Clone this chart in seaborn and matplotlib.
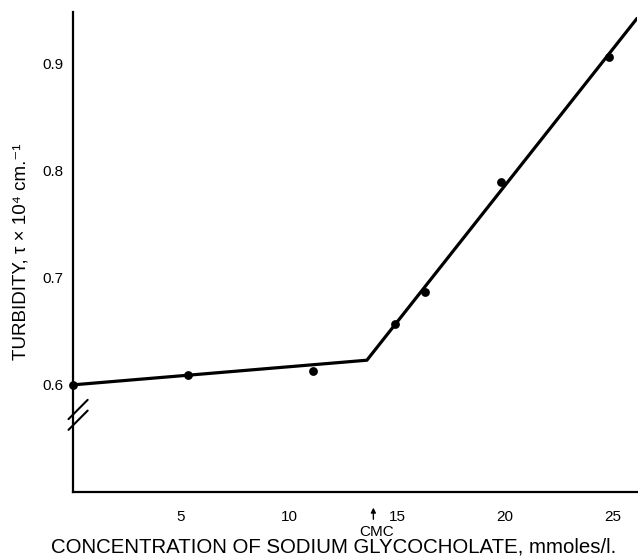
import matplotlib
matplotlib.use("Agg")
import matplotlib.pyplot as plt
import matplotlib.transforms as mtransforms
import seaborn as sns
import pandas as pd

# Measured data points
conc = [0.0, 5.3, 11.1, 14.9, 16.3, 19.8, 24.8]
turbidity = [0.600, 0.609, 0.613, 0.657, 0.687, 0.789, 0.906]

# Fitted broken line (two segments meeting near CMC)
fit_x = [0.0, 13.6, 26.1]
fit_y = [0.600, 0.623, 0.942]

cmc_value = 13.9
x_ticks = [5, 10, 15, 20, 25]
y_ticks = [0.6, 0.7, 0.8, 0.9]
y_ticklabels = ["0.6", "0.7", "0.8", "0.9"]

sns.set_theme(style="white")
plt.rcParams['font.family'] = ['Liberation Sans', 'DejaVu Sans']

fig = plt.figure(figsize=(6.38, 5.56), dpi=100)
ax = fig.add_axes([73/638, 1-492/556, (637-73)/638, (492-12)/556])

pts = pd.DataFrame({"conc": conc, "turbidity": turbidity})
fit = pd.DataFrame({"x": fit_x, "y": fit_y})

sns.lineplot(data=fit, x="x", y="y", ax=ax, color="black", linewidth=2.3,
             sort=False, estimator=None)
sns.scatterplot(data=pts, x="conc", y="turbidity", ax=ax, color="black",
                s=40, edgecolor="black", linewidth=0, zorder=5, clip_on=False)

ax.set_xlim(0, 26.1)
ax.set_ylim(0.5, 0.948)
ax.set_xticks(x_ticks)
ax.set_xticklabels([str(t) for t in x_ticks], fontsize=11)
ax.set_yticks(y_ticks)
ax.set_yticklabels(y_ticklabels, fontsize=11)
ax.tick_params(axis="both", direction="out", length=5, width=1.3, colors="black")
ax.tick_params(axis="x", pad=8)
ax.tick_params(axis="y", pad=2)
for s in ["top", "right"]:
    ax.spines[s].set_visible(False)
for s in ["left", "bottom"]:
    ax.spines[s].set_color("black")
    ax.spines[s].set_linewidth(1.6)

ax.set_xlabel("")
ax.set_ylabel("")

# axis break marks on the y axis
trans = mtransforms.blended_transform_factory(ax.transAxes, ax.transData)
for yb in [0.567, 0.577]:
    ax.plot([-0.008, 0.026], [yb - 0.009, yb + 0.009], color="black", lw=1.5,
            transform=trans, clip_on=False)

# CMC arrow
ax.annotate("", xy=(cmc_value, 0.488), xytext=(cmc_value, 0.472),
            xycoords="data", textcoords="data", annotation_clip=False,
            arrowprops=dict(arrowstyle="-|>", color="black", lw=1.0,
                            mutation_scale=7))
fig.text((73 + cmc_value*21.6 + 3)/638, 1-532/556, "CMC", ha="center", va="center",
         fontsize=11, color="black")

fig.text(334/638, 1-547/556, "CONCENTRATION OF SODIUM GLYCOCHOLATE, mmoles/l.",
         ha="center", va="center", fontsize=14.7, color="black")
fig.text(21/638, 1-252/556, "TURBIDITY, τ × 10⁴ cm.⁻¹", rotation=90,
         ha="center", va="center", fontsize=13.5, color="black")

fig.savefig("out.png", dpi=100)
